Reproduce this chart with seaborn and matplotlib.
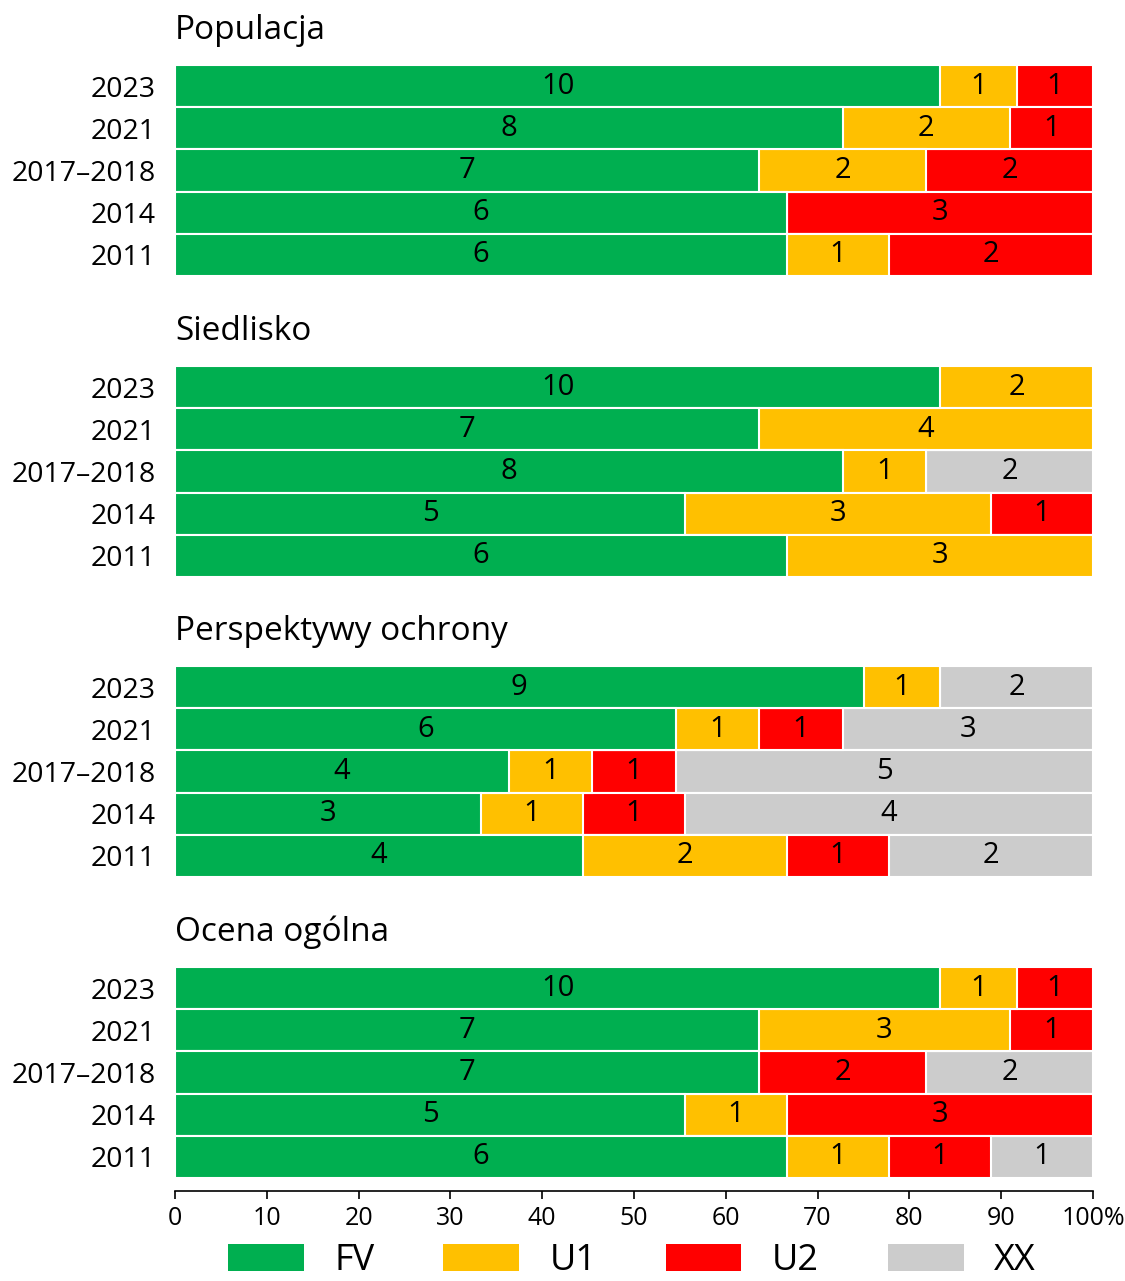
import matplotlib.pyplot as plt
import numpy as np
import seaborn as sns
from matplotlib.patches import Patch

# data: counts per assessment category, rows = years
years = ["2023", "2021", "2017–2018", "2014", "2011"]
panel_titles = ["Populacja", "Siedlisko", "Perspektywy ochrony", "Ocena ogólna"]
categories = ["FV", "U1", "U2", "XX"]

fv_pop = [10, 8, 7, 6, 6]
u1_pop = [1, 2, 2, 0, 1]
u2_pop = [1, 1, 2, 3, 2]
xx_pop = [0, 0, 0, 0, 0]

fv_sie = [10, 7, 8, 5, 6]
u1_sie = [2, 4, 1, 3, 3]
u2_sie = [0, 0, 0, 1, 0]
xx_sie = [0, 0, 2, 0, 0]

fv_per = [9, 6, 4, 3, 4]
u1_per = [1, 1, 1, 1, 2]
u2_per = [0, 1, 1, 1, 1]
xx_per = [2, 3, 5, 4, 2]

fv_oce = [10, 7, 7, 5, 6]
u1_oce = [1, 3, 0, 1, 1]
u2_oce = [1, 1, 2, 3, 1]
xx_oce = [0, 0, 2, 0, 1]

xticks = [0, 10, 20, 30, 40, 50, 60, 70, 80, 90, 100]
xtick_labels = ["0", "10", "20", "30", "40", "50", "60", "70", "80", "90", "100%"]

colors = ["#00AF50", "#FFC000", "#FF0000", "#CCCCCC"]

panels = [
    (fv_pop, u1_pop, u2_pop, xx_pop),
    (fv_sie, u1_sie, u2_sie, xx_sie),
    (fv_per, u1_per, u2_per, xx_per),
    (fv_oce, u1_oce, u2_oce, xx_oce),
]

sns.set_style("white")
plt.rcParams['font.family'] = ['Open Sans', 'DejaVu Sans']
plt.rcParams['text.color'] = 'black'

W, H = 1125, 1281
fig = plt.figure(figsize=(W / 100, H / 100), dpi=100)

left_px, right_px = 175, 1093
tops_px = [65, 366, 666, 967]
panel_h = 211

for k, (title, counts) in enumerate(zip(panel_titles, panels)):
    top = tops_px[k]
    ax = fig.add_axes([left_px / W, 1 - (top + panel_h) / H,
                       (right_px - left_px) / W, panel_h / H])
    counts = np.array(counts, dtype=float)  # shape (4, 5)
    pct = counts / counts.sum(axis=0) * 100
    cum = np.cumsum(pct, axis=0)

    # draw from the widest cumulative layer down so each colour overlays the next
    for i in range(3, -1, -1):
        sns.barplot(x=cum[i], y=years, order=years, orient="h", color=colors[i],
                    width=1.0, edgecolor="white", linewidth=1.5, saturation=1, ax=ax)

    starts = cum - pct
    for i in range(4):
        for j in range(len(years)):
            if counts[i, j] > 0:
                ax.text(starts[i, j] + pct[i, j] / 2, j, f"{int(counts[i, j])}",
                        ha="center", va="center", fontsize=21, color="black")

    ax.set_xlim(0, 100)
    ax.set_ylim(4.5, -0.5)
    ax.set_xlabel("")
    ax.set_ylabel("")
    ax.tick_params(axis="y", length=0, pad=14, labelsize=20.5, labelcolor="black")
    for s in ["top", "right", "left", "bottom"]:
        ax.spines[s].set_visible(False)

    ax.text(0, 1 + 26 / panel_h, title, transform=ax.transAxes,
            ha="left", va="baseline", fontsize=24)

    if k == 3:
        ax.spines["bottom"].set_visible(True)
        ax.spines["bottom"].set_position(("outward", 9))
        ax.spines["bottom"].set_linewidth(1.2)
        ax.spines["bottom"].set_color("black")
        ax.set_xticks(xticks)
        ax.set_xticklabels(xtick_labels)
        ax.tick_params(axis="x", direction="out", length=6, width=1.2,
                       color="black", pad=5, labelsize=18, labelcolor="black",
                       bottom=True)
    else:
        ax.set_xticks([])

handles = [Patch(facecolor=c, edgecolor="none") for c in colors]
fig.legend(handles, categories, loc="center", ncol=4, frameon=False,
           bbox_to_anchor=(632 / W, 1 - 1261 / H),
           fontsize=26, handlelength=2.1, handleheight=0.75,
           handletextpad=0.85, columnspacing=1.9, borderpad=0)

fig.savefig("out.png", dpi=100)
